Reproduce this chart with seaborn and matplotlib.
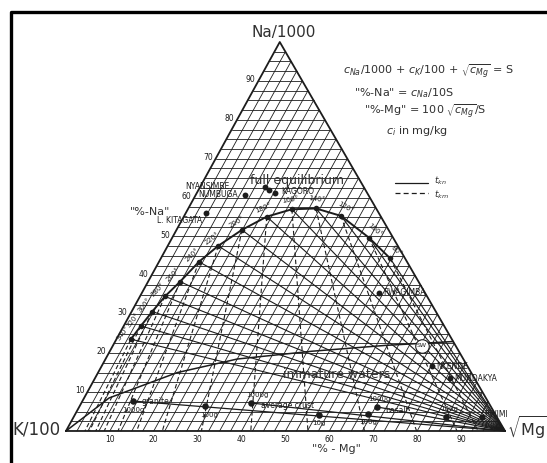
"""
Na-K-Mg ternary (Giggenbach style) redrawn from a scanned figure.
"""

import matplotlib

matplotlib.use("Agg")
import matplotlib.pyplot as plt
import numpy as np
import pandas as pd
import seaborn as sns

# full equilibrium curve (dots every 20 C), in "%-Na" / "%-Mg"
eq_temp = [340, 320, 300, 280, 260, 240, 220, 200, 180, 160, 140, 120, 100, 80]
eq_na = [23.6, 27.0, 30.7, 34.6, 38.4, 43.5, 47.6, 51.7, 55.1, 57.0, 57.2, 55.3, 49.7, 44.4]
eq_mg = [3.3, 3.9, 4.7, 5.7, 7.3, 9.1, 11.5, 14.9, 18.9, 23.7, 29.1, 35.7, 44.8, 52.2]

# boundary of the immature waters field
imm_na = [0.0, 8.5, 15.0, 18.5, 20.5, 22.0, 23.0]
imm_mg = [0.0, 5.7, 18.0, 30.0, 46.0, 62.0, 77.0]

# spring waters
sample_names = ["L. KITAGATA", "NUMBUGA", "NYANSIMBE", "KAGORO", "", "RWAGIMBA",
                "NKENDE", "MUNDAKYA", "RWIMI"]
sample_na = [56.0, 60.7, 62.8, 62.0, 61.3, 35.5, 16.7, 13.6, 3.6]
sample_mg = [4.6, 11.2, 14.8, 16.1, 17.8, 54.0, 75.2, 80.8, 93.0]

# sea water
sw_na = [21.9]
sw_mg = [70.4]

# isochemical rock dissolution (g rock per kg water)
rock_names = ["granite", "granite", "granite", "average crust", "average crust",
              "basalt", "basalt"]
rock_grams = ["1000g", "100g", "10g", "1000g", "100g", "1000g", "100g"]
rock_na = [7.7, 6.4, 4.1, 7.2, 4.4, 6.2, 3.6]
rock_mg = [11.5, 28.5, 55.6, 38.6, 66.7, 67.8, 84.8]

tick_values = [10, 20, 30, 40, 50, 60, 70, 80, 90]

INK = "#1c1c1c"
TXT = "#303030"
APEX = 48.7  # the scanned apex leans slightly to the left


def to_xy(na, mg):
    na = np.asarray(na, dtype=float)
    mg = np.asarray(mg, dtype=float)
    return mg + na * APEX / 100.0, na


def fig_xy(px, py):
    return px / 547, 1 - py / 463


sns.set_theme(style="white")
plt.rcParams["font.family"] = ["DejaVu Sans"]
plt.rcParams["mathtext.fontset"] = "dejavusans"

fig = plt.figure(figsize=(5.47, 4.63), dpi=100)
ax = fig.add_axes([0, 0, 1, 1])
ax.set_xlim(-15.03, 109.57)
ax.set_ylim(-8.23, 110.8)
ax.axis("off")

# hatch grid: constant Na (horizontal) and constant Mg (parallel to left side)
for v in np.arange(2.5, 100, 2.5):
    x, y = to_xy([v, v], [0, 100 - v])
    ax.plot(x, y, color=INK, lw=0.6)
    x, y = to_xy([0, 100 - v], [v, v])
    ax.plot(x, y, color=INK, lw=0.6)

# triangle outline
x, y = to_xy([0, 0, 100, 0], [0, 100, 0, 0])
ax.plot(x, y, color=INK, lw=1.3)

eq = pd.DataFrame({"t": eq_temp, "na": eq_na, "mg": eq_mg})
eq["x"], eq["y"] = to_xy(eq["na"], eq["mg"])

for na, mg in zip(eq["na"], eq["mg"]):
    # t_kn: from the point to the Mg corner
    x, y = to_xy([na, 0], [mg, 100])
    ax.plot(x, y, color=INK, lw=0.8)
    # t_km: from the point down to the K-Mg side, on the line to the Na corner
    x, y = to_xy([na, 0], [mg, mg * 100 / (100 - na)])
    ax.plot(x, y, color=INK, lw=0.8, ls=(0, (4, 2.5)))

sns.lineplot(data=eq, x="x", y="y", sort=False, color=INK, lw=1.4, ax=ax)
sns.scatterplot(data=eq, x="x", y="y", color=INK, s=16, edgecolor=INK,
                linewidth=0, ax=ax, zorder=5)

# temperature labels along the curve
pts = ax.transData.transform(np.column_stack([eq["x"], eq["y"]]))
for i, t in enumerate(eq["t"]):
    a = pts[max(i - 1, 0)]
    b = pts[min(i + 1, len(pts) - 1)]
    d = (b - a) / np.hypot(*(b - a))
    ang = np.degrees(np.arctan2(d[1], d[0]))
    nx, ny = -d[1], d[0]
    ax.annotate(f"{t}°", (eq["x"][i], eq["y"][i]), xytext=(7 * nx, 7 * ny),
                textcoords="offset points", rotation=ang, ha="center",
                va="center", fontsize=5, color=INK, rotation_mode="anchor")

# immature waters boundary
x, y = to_xy(imm_na, imm_mg)
sns.lineplot(x=x, y=y, sort=False, color=INK, lw=1.1, ax=ax)

# rock dissolution lines to the Mg corner
rocks = pd.DataFrame({"rock": rock_names, "g": rock_grams, "na": rock_na, "mg": rock_mg})
rocks["x"], rocks["y"] = to_xy(rocks["na"], rocks["mg"])
for name, grp in rocks.groupby("rock", sort=False):
    x, y = to_xy([grp["na"].iloc[0], 0], [grp["mg"].iloc[0], 100])
    ax.plot(x, y, color=INK, lw=0.9)
sns.scatterplot(data=rocks, x="x", y="y", color=INK, s=22, linewidth=0,
                ax=ax, zorder=5)
gram_offsets = [(0, -6.5), (3, -6.5), (0, -6), (5, 5.5), (0, -6), (2, 6), (2, 6)]
for g, xx, yy, off in zip(rocks["g"], rocks["x"], rocks["y"], gram_offsets):
    ax.annotate(g, (xx, yy), xytext=off, textcoords="offset points",
                ha="center", va="center", fontsize=5, color=INK)
name_offsets = {"granite": (6, 0), "average crust": (7, -2), "basalt": (6, -2.5)}
first = rocks.groupby("rock", sort=False).first()
for name, row in first.iterrows():
    ax.annotate(name, (row["x"], row["y"]), xytext=name_offsets[name],
                textcoords="offset points", ha="left", va="center",
                fontsize=5.5, color=INK)

# spring samples
smp = pd.DataFrame({"name": sample_names, "na": sample_na, "mg": sample_mg})
smp["x"], smp["y"] = to_xy(smp["na"], smp["mg"])
sns.scatterplot(data=smp, x="x", y="y", color=INK, s=18, linewidth=0,
                ax=ax, zorder=5)
offsets = {
    "L. KITAGATA": ((-3, -5), "right"),
    "NUMBUGA": ((-5, 0), "right"),
    "NYANSIMBE": ((-26, 0), "right"),
    "KAGORO": ((9, -1), "left"),
    "RWAGIMBA": ((3, 0), "left"),
    "NKENDE": ((3, 0), "left"),
    "MUNDAKYA": ((3, 0), "left"),
    "RWIMI": ((2, 1.5), "left"),
}
for name, xx, yy in zip(smp["name"], smp["x"], smp["y"]):
    if not name:
        continue
    off, ha = offsets[name]
    ax.annotate(name, (xx, yy), xytext=off, textcoords="offset points",
                ha=ha, va="center", fontsize=5.5, color=INK)

# sea water
x, y = to_xy(sw_na, sw_mg)
ax.scatter(x, y, s=95, facecolor="white", edgecolor=INK, lw=0.8, zorder=6)
ax.text(x[0], y[0], "SW", fontsize=4.5, ha="center", va="center", color=INK, zorder=7)

# side scales
for v in tick_values:
    x, y = to_xy(0, v)
    ax.annotate(str(v), (x, y), xytext=(0, -6), textcoords="offset points",
                ha="center", va="center", fontsize=5.5, color=INK)
    x, y = to_xy(v, 0)
    ax.annotate(str(v), (x, y), xytext=(-2, 1), textcoords="offset points",
                ha="right", va="center", fontsize=5.5, color=INK)

# corner and axis titles
fig.text(*fig_xy(284, 32), "Na/1000", fontsize=11, ha="center", va="center", color=TXT)
fig.text(*fig_xy(36, 430), "K/100", fontsize=12, ha="center", va="center", color=TXT)
fig.text(*fig_xy(507, 428), r"$\sqrt{\mathrm{Mg}}$", fontsize=11.5, ha="left", va="center", color=TXT)
fig.text(*fig_xy(336, 449), '"% - Mg"', fontsize=8, ha="center", va="center", color=TXT)
fig.text(*fig_xy(150, 212), '"%-Na"', fontsize=8, ha="center", va="center", color=TXT)
fig.text(*fig_xy(297, 180), "full equilibrium", fontsize=9, ha="center", va="center", color=TXT)
fig.text(*fig_xy(337, 375), "immature waters", fontsize=9, ha="center", va="center", color=TXT)

# formula block
eq_lines = [
    (428, 72, r"$c_{Na}$/1000 + $c_K$/100 + $\sqrt{c_{Mg}}$ = S"),
    (404, 93, r'"%-Na" = $c_{Na}$/10S'),
    (425, 112, r'"%-Mg" = 100 $\sqrt{c_{Mg}}$/S'),
    (417, 131, r"$c_i$ in mg/kg"),
]
for px, py, s in eq_lines:
    fig.text(*fig_xy(px, py), s, fontsize=8, ha="center", va="center", color=TXT)

# legend
for py, style in [(183, "-"), (193, (0, (4, 2.5)))]:
    (x0, y0), (x1, _) = fig_xy(395, py), fig_xy(428, py)
    fig.add_artist(plt.Line2D([x0, x1], [y0, y0], color=INK, lw=0.9, ls=style))
fig.text(*fig_xy(434, 181), r"$t_{kn}$", fontsize=6.5, va="center", color=TXT)
fig.text(*fig_xy(434, 195), r"$t_{km}$", fontsize=6.5, va="center", color=TXT)

# scan border: only the top and left edges fall inside the picture
(lx, ty), (rx, by) = fig_xy(11, 12), fig_xy(547, 463)
fig.add_artist(plt.Line2D([lx, lx, rx], [by, ty, ty], color="black", lw=2.4))

fig.savefig("out.png", dpi=100)
